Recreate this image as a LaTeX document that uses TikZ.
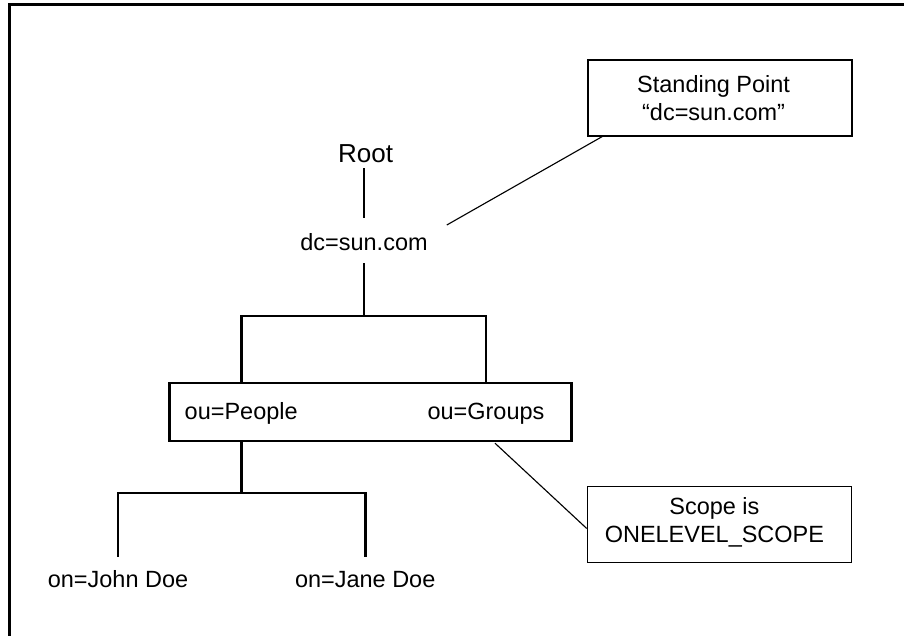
\documentclass[tikz,border=0pt]{standalone}
\usepackage{fontspec}
\setmainfont{Liberation Sans}
\usetikzlibrary{positioning}

\begin{document}
\begin{tikzpicture}[
  lbl/.style={inner sep=0pt,anchor=base,text height=12pt,text depth=3.5pt,font=\fontsize{16.7}{16.4}\selectfont},
  tree/.style={line width=1.85pt},
  thinline/.style={line width=0.8pt},
  callbox/.style={draw,thinline,minimum width=6.6cm,minimum height=1.9cm},
  calltext/.style={align=center,inner sep=0pt,font=\fontsize{16.7}{16.6}\selectfont}]
\useasboundingbox (0,0) rectangle (22.6,-15.9);
\draw[line width=2.1pt] (22.6,-0.11)--(0.24,-0.11)--(0.24,-15.9);
% tree
\node[lbl,font=\fontsize{18.5}{20}\selectfont] (root) at (9.14,-4.05) {Root};
\node[lbl] (dc) at (9.1,-6.25) {dc=sun.com};
\draw[tree,shorten <=0.8pt,shorten >=10.7pt] (dc.north |- root.south) -- (dc.north);
\coordinate (fork1) at (9.1,-7.9);
\draw[tree,shorten <=5.7pt] (dc.south) -- (fork1);
\node[draw,tree,minimum width=10.05cm,minimum height=1.45cm] (ous) at (9.26,-10.3) {};
\node[lbl] (people) at (6.03,-10.475) {ou=People};
\node[lbl] (groups) at (12.15,-10.475) {ou=Groups};
\draw[tree] (people |- ous.north) |- (fork1) -| (groups |- ous.north);
\coordinate (fork2) at (6.03,-12.325);
\draw[tree] (people |- ous.south) -- (fork2);
\node[lbl] (john) at (2.95,-14.675) {on=John Doe};
\node[lbl] (jane) at (9.13,-14.675) {on=Jane Doe};
\draw[tree,shorten <=9.3pt,shorten >=9.3pt] (john.north) |- (fork2) -| (jane.north);
% callouts
\node[callbox] (sp) at (18.0,-2.45) {};
\node[calltext] (sptext) at (17.84,-2.45) {Standing Point\\[3pt]“dc=sun.com”};
\coordinate (spfoot) at (11.17,-5.625);
\draw[thinline] (spfoot) -- ([xshift=0.37cm]sp.south west);
\node[callbox] (scope) at (17.98,-13.12) {};
\node[calltext] (scopetext) at (17.86,-13.06) {Scope is\\[3pt]ONELEVEL\_SCOPE};
\coordinate (scfoot) at (12.375,-11.08);
\draw[thinline] (scfoot) -- ([yshift=-0.09cm]scope.west);
\end{tikzpicture}
\end{document}
